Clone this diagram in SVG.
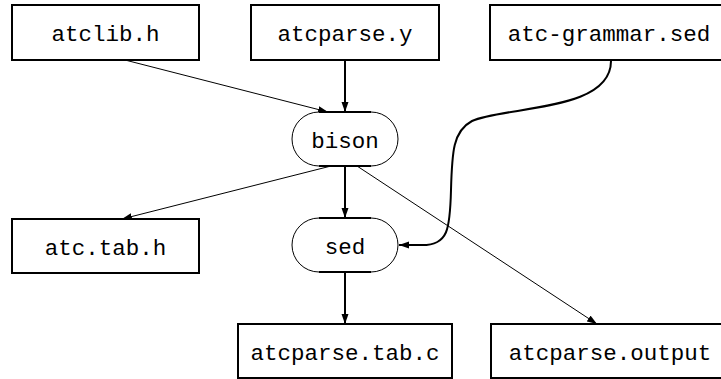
<svg xmlns="http://www.w3.org/2000/svg" width="721" height="379" viewBox="0 0 721 379">
  <style>
    .box { fill: #fff; stroke: #000; stroke-width: 2; }
    .arc { fill: none; stroke: #000; stroke-width: 1; }
    .flat { fill: none; stroke: #000; stroke-width: 2; }
    .lbl { font-family: "Liberation Mono", "DejaVu Sans Mono", monospace; font-size: 22.5px; fill: #000; text-anchor: middle; }
    .thin { fill: none; stroke: #000; stroke-width: 1; marker-end: url(#arr); }
    .thick { fill: none; stroke: #000; stroke-width: 2; marker-end: url(#arr); }
  </style>
  <defs>
    <marker id="arr" markerUnits="userSpaceOnUse" markerWidth="10" markerHeight="8" viewBox="0 0 10 8" refX="10" refY="4" orient="auto">
      <path d="M0,0.5 L10,4 L0,7.5 Z" fill="#000"/>
    </marker>
  </defs>
  <rect width="721" height="379" fill="#fff"/>

  <!-- connectors -->
  <g id="edges">
    <path class="thin" d="M125,60 L328,112"/>
    <path class="thick" d="M345,61 L345,112"/>
    <path class="thin" d="M331,166 L122,219"/>
    <path class="thick" d="M345,167 L345,218"/>
    <path class="thin" d="M357,166 L597,324"/>
    <path class="thick" d="M345,273 L345,324"/>
    <path class="thick" d="M611,61 C611,112 505,106 472,121 C453,131 452,152 451,190 C450,230 448,245 422,245 L399,245"/>
  </g>

  <!-- source files -->
  <g id="atclib_h">
    <rect class="box" x="12" y="5" width="187" height="55"/>
    <text class="lbl" x="105.5" y="41">atclib.h</text>
  </g>
  <g id="atcparse_y">
    <rect class="box" x="251" y="5" width="188" height="55"/>
    <text class="lbl" x="345" y="41">atcparse.y</text>
  </g>
  <g id="atc_grammar_sed">
    <rect class="box" x="490" y="5" width="238" height="55"/>
    <text class="lbl" x="609" y="41">atc-grammar.sed</text>
  </g>

  <!-- tools -->
  <g id="bison">
    <path d="M319,112 L371,112 A27,27 0 0 1 371,166 L319,166 A27,27 0 0 1 319,112 Z" fill="#fff" stroke="none"/>
    <path class="arc" d="M319,166 A27,27 0 0 1 319,112 M371,112 A27,27 0 0 1 371,166"/>
    <path class="flat" d="M319,112 L371,112 M319,166 L371,166"/>
    <text class="lbl" x="345" y="147.5">bison</text>
  </g>
  <g id="sed">
    <path d="M319,218 L371,218 A27,27 0 0 1 371,272 L319,272 A27,27 0 0 1 319,218 Z" fill="#fff" stroke="none"/>
    <path class="arc" d="M319,272 A27,27 0 0 1 319,218 M371,218 A27,27 0 0 1 371,272"/>
    <path class="flat" d="M319,218 L371,218 M319,272 L371,272"/>
    <text class="lbl" x="345" y="253.5">sed</text>
  </g>

  <!-- generated files -->
  <g id="atc_tab_h">
    <rect class="box" x="12" y="219" width="187" height="54"/>
    <text class="lbl" x="105.5" y="254.5">atc.tab.h</text>
  </g>
  <g id="atcparse_tab_c">
    <rect class="box" x="238" y="324" width="214" height="54"/>
    <text class="lbl" x="345" y="359.5">atcparse.tab.c</text>
  </g>
  <g id="atcparse_output">
    <rect class="box" x="491" y="324" width="238" height="54"/>
    <text class="lbl" x="610" y="359.5">atcparse.output</text>
  </g>
</svg>
